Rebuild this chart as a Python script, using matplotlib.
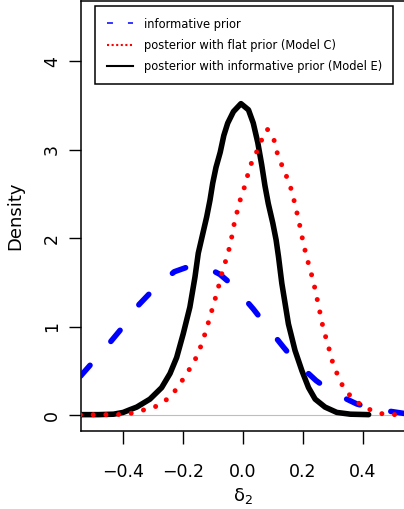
import matplotlib
matplotlib.use('Agg')
import matplotlib.pyplot as plt
from matplotlib.lines import Line2D

# values
prior_x = [-0.54, -0.509, -0.442, -0.403, -0.345, -0.300, -0.228, -0.170, -0.120, -0.076,
           -0.031, 0.035, 0.074, 0.135, 0.174, 0.244, 0.297, 0.380, 0.441, 0.54]
prior_y = [0.44, 0.56, 0.82, 0.98, 1.25, 1.41, 1.62, 1.69, 1.67, 1.59,
           1.46, 1.20, 1.03, 0.77, 0.61, 0.39, 0.26, 0.125, 0.068, 0.017]

modelC_x = [-0.54, -0.50, -0.46, -0.42, -0.381, -0.34, -0.30, -0.265, -0.233, -0.209,
            -0.187, -0.165, -0.147, -0.133, -0.120, -0.109, -0.098, -0.087, -0.076, -0.065,
            -0.053, -0.043, -0.035, -0.027, -0.017, -0.007, 0.006, 0.017, 0.030, 0.047,
            0.063, 0.082, 0.104, 0.113, 0.127, 0.143, 0.158, 0.169, 0.178, 0.187,
            0.195, 0.204, 0.213, 0.224, 0.235, 0.244, 0.252, 0.260, 0.269, 0.280,
            0.291, 0.302, 0.319, 0.335, 0.360, 0.391, 0.430, 0.469, 0.51, 0.54]
modelC_y = [0.003, 0.004, 0.005, 0.006, 0.012, 0.05, 0.08, 0.14, 0.24, 0.35,
            0.47, 0.58, 0.71, 0.84, 0.98, 1.11, 1.24, 1.37, 1.51, 1.66,
            1.78, 1.91, 2.04, 2.19, 2.32, 2.45, 2.58, 2.72, 2.86, 2.98,
            3.11, 3.23, 3.11, 2.98, 2.85, 2.72, 2.59, 2.45, 2.32, 2.19,
            2.05, 1.91, 1.78, 1.65, 1.51, 1.37, 1.24, 1.11, 0.96, 0.84,
            0.70, 0.56, 0.43, 0.31, 0.21, 0.12, 0.05, 0.01, 0.005, 0.003]

modelE_x = [-0.56, -0.48, -0.43, -0.398, -0.376, -0.353, -0.309, -0.270, -0.242, -0.220,
            -0.198, -0.176, -0.159, -0.148, -0.133, -0.120, -0.109, -0.100, -0.089, -0.075,
            -0.063, -0.050, -0.031, -0.006, 0.019, 0.035, 0.050, 0.063, 0.074, 0.085,
            0.100, 0.111, 0.119, 0.130, 0.152, 0.174, 0.197, 0.219, 0.241, 0.274,
            0.313, 0.358, 0.419]
modelE_y = [0.005, 0.005, 0.01, 0.03, 0.06, 0.09, 0.18, 0.31, 0.47, 0.65,
            0.92, 1.22, 1.56, 1.83, 2.05, 2.24, 2.43, 2.62, 2.80, 2.97,
            3.16, 3.30, 3.43, 3.52, 3.45, 3.30, 3.08, 2.83, 2.59, 2.39,
            2.17, 1.98, 1.79, 1.49, 1.03, 0.73, 0.50, 0.31, 0.18, 0.09,
            0.03, 0.01, 0.005]

x_ticks = [-0.4, -0.2, 0.0, 0.2, 0.4]
x_ticklabels = ['\u22120.4', '\u22120.2', '0.0', '0.2', '0.4']
y_ticks = [0, 1, 2, 3, 4]
y_ticklabels = ['0', '1', '2', '3', '4']
legend_labels = ['informative prior',
                 'posterior with flat prior (Model C)',
                 'posterior with informative prior (Model E)']

plt.rcParams['font.family'] = ['DejaVu Sans']
plt.rcParams['mathtext.fontset'] = 'dejavusans'

W, H = 404, 509
fig = plt.figure(figsize=(W / 100, H / 100), dpi=100)
ax = fig.add_axes([80.5 / W, (H - 431) / H, 324.5 / W, 430 / H])

ax.axhline(0, color='#bebebe', lw=0.8, zorder=1)
ax.plot(modelE_x, modelE_y, color='black', lw=4.0, solid_capstyle='round',
        solid_joinstyle='round', zorder=2)
ax.plot(prior_x, prior_y, color='#0000ff', lw=4.0, linestyle=(0, (2.6, 5.7)),
        dash_capstyle='round', zorder=3)
ax.plot(modelC_x, modelC_y, color='#ff0000', lw=3.6, linestyle=(0, (0.001, 2.54)),
        dash_capstyle='round', zorder=4)

ax.set_xlim(-0.54, 0.54)
ax.set_ylim(-0.18, 4.68)
ax.set_xticks(x_ticks)
ax.set_xticklabels(x_ticklabels)
ax.set_yticks(y_ticks)
ax.set_yticklabels(y_ticklabels, rotation=90, va='center')

for s in ['left', 'bottom', 'top']:
    ax.spines[s].set_linewidth(1.1)
ax.spines['right'].set_visible(False)

ax.tick_params(axis='both', direction='out', length=9, width=1.0, labelsize=12.5)
ax.tick_params(axis='x', pad=14)
ax.tick_params(axis='y', pad=5)

ax.set_ylabel('Density', fontsize=13, va='center')
ax.yaxis.set_label_coords(-(80.5 - 15) / 324.5, 0.5)
ax.set_xlabel(r'$\mathregular{\delta_2}$', fontsize=13, va='top')
ax.xaxis.set_label_coords(0.5, -(486 - 431) / 430)

handles = [
    Line2D([], [], color='#0000ff', lw=1.1, linestyle=(0, (3.9, 9.8))),
    Line2D([], [], color='#ff0000', lw=1.5, linestyle=(0, (1, 1.2))),
    Line2D([], [], color='black', lw=1.5),
]
leg = ax.legend(handles, legend_labels, loc='upper left',
                bbox_to_anchor=(95 / W, 1 - 6 / H), bbox_transform=fig.transFigure,
                fontsize=8.3, fancybox=False, framealpha=1, edgecolor='black',
                borderpad=1.0, labelspacing=0.7, handlelength=2.26,
                handletextpad=0.96, borderaxespad=0)
leg.get_frame().set_linewidth(1.1)

fig.savefig('out.png', dpi=100)
